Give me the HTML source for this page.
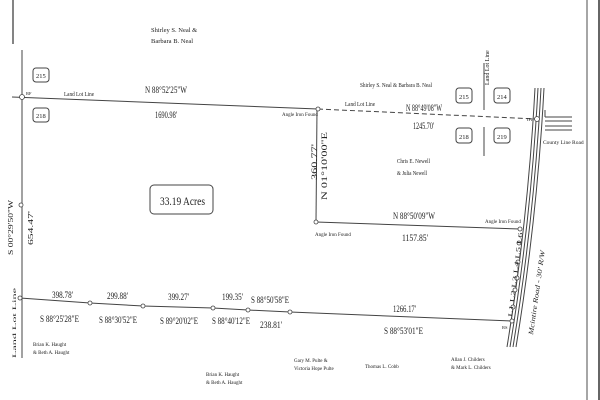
<!DOCTYPE html>
<html><head><meta charset="utf-8"><style>
html,body{margin:0;padding:0;background:#fff;}
svg{display:block}
text{font-family:"Liberation Serif",serif;fill:#222}
</style></head><body>
<svg width="600" height="400" viewBox="0 0 600 400" xmlns="http://www.w3.org/2000/svg">
<rect width="600" height="400" fill="#fff"/>
<line x1="13" y1="0" x2="13" y2="44" stroke="#333" stroke-width="1.2"/>
<line x1="587" y1="0" x2="587" y2="400" stroke="#777" stroke-width="1.3"/>
<line x1="599" y1="0" x2="599" y2="400" stroke="#333" stroke-width="1.5"/>
<g stroke="#444" stroke-width="1" fill="none">
<line x1="12" y1="97" x2="318" y2="109"/>
<line x1="318" y1="109" x2="537" y2="119" stroke-dasharray="5,3"/>
<line x1="22" y1="50" x2="22" y2="358"/>
<line x1="317" y1="109" x2="316" y2="222"/>
<line x1="316" y1="222" x2="520" y2="229"/>
<polyline points="20,298 90,303 143,306 213,308 248,310 290,312 512,321"/>
<line x1="484" y1="63" x2="484" y2="110"/>
<line x1="484" y1="127" x2="484" y2="156"/>
<path d="M535,88 Q528,220 507,347"/>
<path d="M538,88 Q531,220 510,347"/>
<path d="M541,88 Q534,220 513,347"/>
<path d="M544,88 Q537,220 516,347"/>
<line x1="545" y1="110" x2="545" y2="117"/>
<line x1="545" y1="117" x2="572" y2="117"/>
<line x1="545" y1="121" x2="572" y2="121"/>
<line x1="545" y1="126" x2="572" y2="126"/>
<line x1="545" y1="130" x2="572" y2="130"/>
<rect x="33" y="68" width="16" height="14" rx="3"/>
<rect x="33" y="108" width="16" height="14" rx="3"/>
<rect x="456" y="88" width="16" height="15" rx="3"/>
<rect x="494" y="88" width="16" height="15" rx="3"/>
<rect x="456" y="128" width="16" height="15" rx="3"/>
<rect x="494" y="128" width="16" height="15" rx="3"/>
<rect x="150" y="185" width="63" height="29" rx="4"/>
</g>
<g fill="#fff" stroke="#444" stroke-width="0.8">
<circle cx="22" cy="97" r="2.5"/><circle cx="318" cy="109" r="2"/><circle cx="316" cy="222" r="2"/>
<circle cx="537" cy="119" r="2.5"/><circle cx="21" cy="205" r="2"/>
<circle cx="20" cy="298" r="2"/><circle cx="90" cy="303" r="2"/><circle cx="143" cy="306" r="2"/><circle cx="213" cy="308" r="2"/><circle cx="248" cy="310" r="2"/><circle cx="290" cy="312" r="2"/>
<circle cx="520" cy="229" r="2"/><circle cx="519" cy="243" r="2"/><circle cx="518" cy="262" r="2"/><circle cx="517" cy="278" r="2"/><circle cx="515" cy="290" r="2"/><circle cx="513" cy="307" r="2"/><circle cx="512" cy="321" r="2"/>
</g>
<g font-size="6.5">
<text x="151" y="32">Shirley S. Neal &amp;</text>
<text x="151" y="43">Barbara B. Neal</text>
<text x="36" y="78">215</text><text x="36" y="118">218</text>
<text x="459" y="99">215</text><text x="497" y="99">214</text>
<text x="459" y="139">218</text><text x="497" y="139">219</text>
<text x="26" y="95" font-size="4.5">RF</text>
<text x="64" y="96" textLength="30" lengthAdjust="spacingAndGlyphs">Land Lot Line</text>
<text x="360" y="87" textLength="72" lengthAdjust="spacingAndGlyphs">Shirley S. Neal &amp; Barbara B. Neal</text>
<text x="345" y="106" textLength="30" lengthAdjust="spacingAndGlyphs">Land Lot Line</text>
<text x="282" y="116" font-size="5">Angle Iron Found</text>
<text x="397" y="163" textLength="33" lengthAdjust="spacingAndGlyphs">Chris E. Newell</text>
<text x="397" y="175" textLength="30" lengthAdjust="spacingAndGlyphs">&amp; Julia Newell</text>
<text x="315" y="236" font-size="5">Angle Iron Found</text>
<text x="485" y="223" font-size="5">Angle Iron Found</text>
<text x="543" y="144" font-size="5.5">County Line Road</text>
<text x="527" y="121" font-size="4.5">IPF</text>
<text x="33" y="346" font-size="5">Brian K. Haught</text>
<text x="33" y="354" font-size="5">&amp; Beth A. Haught</text>
<text x="206" y="376" font-size="5">Brian K. Haught</text>
<text x="206" y="384" font-size="5">&amp; Beth A. Haught</text>
<text x="294" y="362" font-size="5">Gary M. Pulte &amp;</text>
<text x="294" y="370" font-size="5">Victoria Hope Pulte</text>
<text x="365" y="368" font-size="5">Thomas L. Cobb</text>
<text x="451" y="361" font-size="5">Allan J. Childers</text>
<text x="451" y="369" font-size="5">&amp; Mark L. Childers</text>
<text x="502" y="329" font-size="4.5">RS</text>
</g>
<g font-size="9">
<text x="145" y="93" textLength="42" lengthAdjust="spacingAndGlyphs">N 88°52'25"W</text>
<text x="155" y="118" textLength="22" lengthAdjust="spacingAndGlyphs">1690.98'</text>
<text x="406" y="111" textLength="36" lengthAdjust="spacingAndGlyphs">N 88°49'08"W</text>
<text x="413" y="129" textLength="21" lengthAdjust="spacingAndGlyphs">1245.70'</text>
<text x="393" y="219" textLength="42" lengthAdjust="spacingAndGlyphs">N 88°50'09"W</text>
<text x="402" y="241" textLength="26" lengthAdjust="spacingAndGlyphs">1157.85'</text>
<text x="160" y="205" font-size="12" textLength="45" lengthAdjust="spacingAndGlyphs">33.19  Acres</text>
<text x="52" y="298" textLength="21" lengthAdjust="spacingAndGlyphs">398.78'</text>
<text x="107" y="299" textLength="21" lengthAdjust="spacingAndGlyphs">299.88'</text>
<text x="168" y="300" textLength="21" lengthAdjust="spacingAndGlyphs">399.27'</text>
<text x="222" y="300" textLength="21" lengthAdjust="spacingAndGlyphs">199.35'</text>
<text x="251" y="303" textLength="38" lengthAdjust="spacingAndGlyphs">S 88°50'58"E</text>
<text x="393" y="312" textLength="23" lengthAdjust="spacingAndGlyphs">1266.17'</text>
<text x="40" y="322" textLength="39" lengthAdjust="spacingAndGlyphs">S 88°25'28"E</text>
<text x="99" y="323" textLength="38" lengthAdjust="spacingAndGlyphs">S 88°30'52"E</text>
<text x="160" y="324" textLength="38" lengthAdjust="spacingAndGlyphs">S 89°20'02"E</text>
<text x="212" y="324" textLength="38" lengthAdjust="spacingAndGlyphs">S 88°40'12"E</text>
<text x="260" y="328" textLength="22" lengthAdjust="spacingAndGlyphs">238.81'</text>
<text x="384" y="334" textLength="39" lengthAdjust="spacingAndGlyphs">S 88°53'01"E</text>
</g>
<text transform="translate(327,200) rotate(-90)" font-size="8" textLength="68" lengthAdjust="spacingAndGlyphs">N 01°10'00"E</text>
<text transform="translate(317,180) rotate(-90)" font-size="8.5" textLength="36" lengthAdjust="spacingAndGlyphs">360.77'</text>
<text transform="translate(13,255) rotate(-90)" font-size="7.5" textLength="55" lengthAdjust="spacingAndGlyphs">S 00°29'50"W</text>
<text transform="translate(33,245) rotate(-90)" font-size="7.5" textLength="34" lengthAdjust="spacingAndGlyphs">654.47'</text>
<text transform="translate(16,358) rotate(-90)" font-size="5.5" textLength="70" lengthAdjust="spacingAndGlyphs">Land Lot Line</text>
<text transform="translate(489,85) rotate(-90)" font-size="6">Land Lot Line</text>
<text transform="translate(512,317) rotate(-83)" font-size="6" textLength="85" lengthAdjust="spacingAndGlyphs">L1 L2 L3 L4 L5 L6</text>
<text transform="translate(533,335) rotate(-82)" font-size="7" font-style="italic" textLength="85" lengthAdjust="spacingAndGlyphs">Mcintire Road - 30' R/W</text>
</svg>
</body></html>
